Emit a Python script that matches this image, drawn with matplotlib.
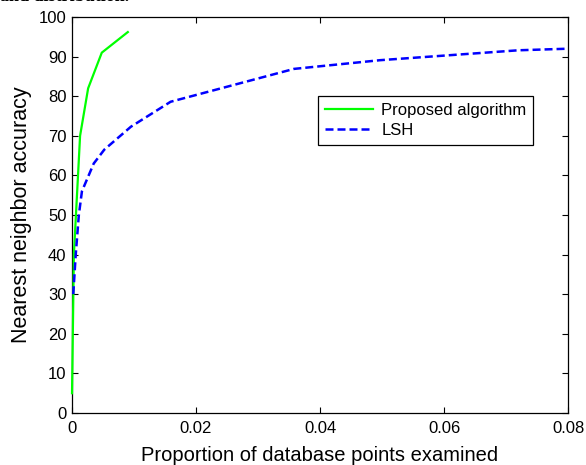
import matplotlib.pyplot as plt

# data
prop_x = [0.0, 0.0003, 0.0013, 0.0026, 0.0048, 0.0090]
prop_y = [5, 40, 70, 82, 91, 96.2]

lsh_x = [0.0002, 0.0006, 0.0011, 0.0016, 0.0035, 0.0052, 0.0095, 0.0159,
         0.0358, 0.0497, 0.072, 0.080]
lsh_y = [30, 40, 50, 56, 63, 66.5, 72.3, 78.6, 86.9, 89.1, 91.6, 92.0]

xticks = [0, 0.02, 0.04, 0.06, 0.08]
xtick_labels = ['0', '0.02', '0.04', '0.06', '0.08']
yticks = list(range(0, 101, 10))

plt.rcParams['font.family'] = ['Liberation Sans', 'DejaVu Sans']

fig = plt.figure(figsize=(5.86, 4.65), dpi=100)
ax = fig.add_axes([0.1229, 0.1118, 0.8464, 0.8516])

# lines sit on top of the axes box, like in the original
ax.plot(prop_x, prop_y, color='#00ff00', linewidth=1.6, label='Proposed algorithm',
        zorder=3, clip_on=False)
ax.plot(lsh_x, lsh_y, color='#0000ff', linewidth=1.8, linestyle=(0, (3.2, 1.6)), label='LSH',
        zorder=3, clip_on=False)

ax.set_xlim(0, 0.08)
ax.set_ylim(0, 100)
ax.set_xticks(xticks)
ax.set_xticklabels(xtick_labels)
ax.set_yticks(yticks)
ax.tick_params(direction='in', length=4, labelsize=12, top=True, right=True, width=0.8)
ax.tick_params(axis='x', pad=6)
ax.tick_params(axis='y', pad=4)
for s in ax.spines.values():
    s.set_linewidth(0.9)

ax.set_xlabel('Proportion of database points examined', fontsize=14.5, labelpad=7)
ax.set_ylabel('Nearest neighbor accuracy', fontsize=15.5, labelpad=5)

leg = ax.legend(loc='upper right', bbox_to_anchor=(0.93, 0.80), fontsize=12,
                frameon=True, fancybox=False, edgecolor='black', framealpha=1,
                handlelength=2.9, borderpad=0.4, labelspacing=0.3, handletextpad=0.5,
                borderaxespad=0)
leg.get_frame().set_linewidth(0.9)
leg.set_zorder(4)

# caption from the page, cut off at the top edge
fig.text(0.0, 1.0065, 'and distribution.', fontsize=13, fontweight='bold',
         family='Liberation Serif', va='center', ha='left')

fig.savefig('out.png', dpi=100)
